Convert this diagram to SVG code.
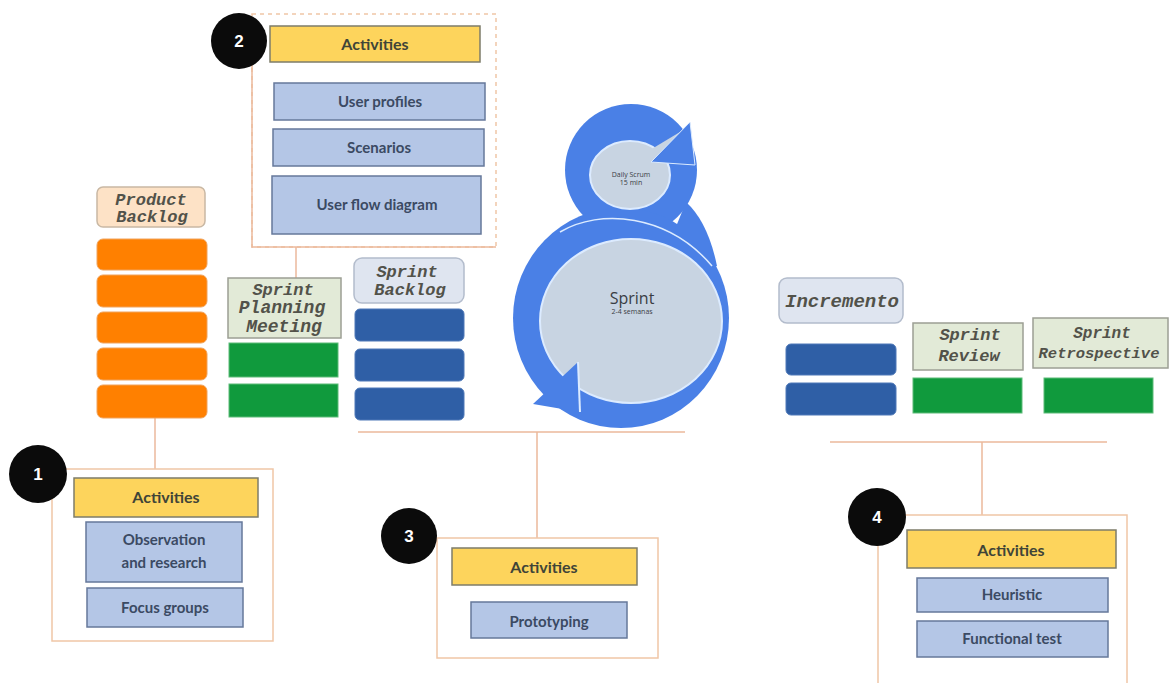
<svg xmlns="http://www.w3.org/2000/svg" width="1169" height="683" viewBox="0 0 1169 683">
  <style>
    .frame { fill: #ffffff; stroke: #f0c6a6; stroke-width: 1.5; }
    .dash { fill: none; stroke: #f0c6a6; stroke-width: 1.5; stroke-dasharray: 4 4; }
    .link { fill: none; stroke: #ebb99c; stroke-width: 1.5; }
    .act { fill: #fdd45c; stroke: #7d7c6a; stroke-width: 1.5; }
    .item { fill: #b4c6e6; stroke: #66789a; stroke-width: 1.5; }
    .badge { fill: #0b0b0b; }
    .num { font-family: "Liberation Sans", Arial, sans-serif; font-weight: bold; font-size: 17px; fill: #ffffff; text-anchor: middle; }
    .t-act { font-family: Lato, "Liberation Sans", sans-serif; font-weight: bold; font-size: 16px; fill: #3f4438; text-anchor: middle; }
    .t-item { font-family: Lato, "Liberation Sans", sans-serif; font-weight: bold; font-size: 15px; fill: #3b4a63; text-anchor: middle; }
    .lbl { font-family: "Liberation Mono", "Courier New", monospace; font-style: italic; font-weight: bold; font-size: 17px; fill: #52524a; text-anchor: middle; }
    .orange { fill: #ff8000; stroke: #f0a35c; stroke-width: 1; }
    .green { fill: #109a3d; stroke: #5dbb78; stroke-width: 1; }
    .blue { fill: #2f5fa6; stroke: #4f79b8; stroke-width: 1; }
    .lab-peach { fill: #fde2c6; stroke: #c9b8a4; stroke-width: 1.5; }
    .lab-green { fill: #e2ead7; stroke: #9c9f94; stroke-width: 1.5; }
    .lab-blue { fill: #dfe5f0; stroke: #b3bccc; stroke-width: 1.5; }
    .ring { fill: #4a80e6; }
    .core { fill: #c8d4e2; stroke: #dcebff; stroke-width: 2; }
    .t-sprint { font-family: "Open Sans", "Noto Sans", sans-serif; fill: #3a3d44; text-anchor: middle; }
  </style>

  <!-- connectors -->
  <g id="connectors">
    <path class="link" d="M155 418 V469"/>
    <path class="link" d="M296 247 V278"/>
    <path class="link" d="M358 432 H685 M537 432 V538"/>
    <path class="link" d="M830 442 H1107 M982 442 V515"/>
  </g>

  <!-- phase 2: activities -->
  <g id="phase2">
    <rect class="frame" x="252" y="14" width="244" height="233" style="stroke:none"/>
    <rect class="dash" x="252" y="14" width="244" height="233"/>
    <path class="link" d="M252 62 V247 H496"/>
    <rect class="act" x="270" y="26" width="210" height="36"/>
    <text class="t-act" x="375" y="50">Activities</text>
    <rect class="item" x="274" y="83" width="211" height="37"/>
    <text class="t-item" x="380" y="107">User profiles</text>
    <rect class="item" x="273" y="129" width="211" height="37"/>
    <text class="t-item" x="379" y="153">Scenarios</text>
    <rect class="item" x="272" y="176" width="209" height="58"/>
    <text class="t-item" x="377" y="210">User flow diagram</text>
    <circle class="badge" cx="239" cy="41" r="28"/>
    <text class="num" x="239" y="47">2</text>
  </g>

  <!-- product backlog -->
  <g id="product-backlog">
    <rect class="lab-peach" x="97" y="187" width="108" height="40" rx="6"/>
    <text class="lbl" x="151" y="205">Product</text>
    <text class="lbl" x="152" y="222">Backlog</text>
    <rect class="orange" x="97" y="239" width="110" height="31" rx="6"/>
    <rect class="orange" x="97" y="275" width="110" height="32" rx="6"/>
    <rect class="orange" x="97" y="312" width="110" height="31" rx="6"/>
    <rect class="orange" x="97" y="348" width="110" height="32" rx="6"/>
    <rect class="orange" x="97" y="385" width="110" height="33" rx="6"/>
  </g>

  <!-- sprint planning meeting -->
  <g id="sprint-planning">
    <rect class="lab-green" x="228" y="278" width="113" height="60"/>
    <text class="lbl" x="283" y="295">Sprint</text>
    <text class="lbl" x="282" y="313" style="font-size:18px">Planning</text>
    <text class="lbl" x="284" y="332" style="font-size:18px">Meeting</text>
    <rect class="green" x="229" y="343" width="109" height="34"/>
    <rect class="green" x="229" y="384" width="109" height="33"/>
  </g>

  <!-- sprint backlog -->
  <g id="sprint-backlog">
    <rect class="lab-blue" x="354" y="258" width="110" height="45" rx="8"/>
    <text class="lbl" x="407" y="277">Sprint</text>
    <text class="lbl" x="410" y="295">Backlog</text>
    <rect class="blue" x="355" y="309" width="109" height="32" rx="5"/>
    <rect class="blue" x="355" y="349" width="109" height="32" rx="5"/>
    <rect class="blue" x="355" y="388" width="109" height="32" rx="5"/>
  </g>

  <!-- sprint cycle: two looping arrows forming an 8 -->
  <g id="sprint-cycle">
    <circle class="ring" cx="631" cy="170" r="66"/>
    <ellipse class="ring" cx="621" cy="318" rx="108" ry="110"/>
    <path class="ring" d="M686 202 Q708 222 717 266 L660 266 Z"/>
    <path d="M560 232 C600 208 668 214 712 266" fill="none" stroke="#dcebff" stroke-width="1.5"/>
    <ellipse class="core" cx="630" cy="175" rx="40" ry="34"/>
    <ellipse class="core" cx="631" cy="321" rx="91" ry="82"/>
    <polygon points="650,150 690,126 664,161" fill="#c8d4e2"/>
    <polygon class="ring" points="690,122 695,165 651,162" stroke="#dcebff" stroke-width="1"/>
    <polygon class="ring" points="533,404 578,362 580,412"/>
    <path d="M578 362 L580 412" stroke="#dcebff" stroke-width="2"/>
    <text class="t-sprint" x="631" y="177" style="font-size:7px">Daily Scrum</text>
    <text class="t-sprint" x="631" y="185" style="font-size:7px">15 min</text>
    <text class="t-sprint" x="632" y="304" style="font-size:16px">Sprint</text>
    <text class="t-sprint" x="632" y="314" style="font-size:7px">2-4 semanas</text>
  </g>

  <!-- increment -->
  <g id="incremento">
    <rect class="lab-blue" x="779" y="278" width="124" height="45" rx="8"/>
    <text class="lbl" x="842" y="307" style="font-size:19px">Incremento</text>
    <rect class="blue" x="786" y="344" width="110" height="31" rx="5"/>
    <rect class="blue" x="786" y="383" width="110" height="32" rx="5"/>
  </g>

  <!-- sprint review -->
  <g id="sprint-review">
    <rect class="lab-green" x="913" y="323" width="110" height="47"/>
    <text class="lbl" x="970" y="340">Sprint</text>
    <text class="lbl" x="969" y="361">Review</text>
    <rect class="green" x="913" y="378" width="109" height="35"/>
  </g>

  <!-- sprint retrospective -->
  <g id="sprint-retrospective">
    <rect class="lab-green" x="1033" y="318" width="135" height="50"/>
    <text class="lbl" x="1102" y="338" style="font-size:16px">Sprint</text>
    <text class="lbl" x="1099" y="358" style="font-size:15.5px">Retrospective</text>
    <rect class="green" x="1044" y="378" width="109" height="35"/>
  </g>

  <!-- phase 1: activities -->
  <g id="phase1">
    <rect class="frame" x="52" y="469" width="221" height="172"/>
    <rect class="act" x="74" y="478" width="184" height="39"/>
    <text class="t-act" x="166" y="503">Activities</text>
    <rect class="item" x="86" y="522" width="156" height="60"/>
    <text class="t-item" x="164" y="545">Observation</text>
    <text class="t-item" x="164" y="568">and research</text>
    <rect class="item" x="87" y="588" width="156" height="39"/>
    <text class="t-item" x="165" y="613">Focus groups</text>
    <circle class="badge" cx="38" cy="474" r="29"/>
    <text class="num" x="38" y="480">1</text>
  </g>

  <!-- phase 3: activities -->
  <g id="phase3">
    <rect class="frame" x="437" y="538" width="221" height="120"/>
    <rect class="act" x="452" y="548" width="185" height="37"/>
    <text class="t-act" x="544" y="573">Activities</text>
    <rect class="item" x="471" y="602" width="156" height="36"/>
    <text class="t-item" x="549" y="627">Prototyping</text>
    <circle class="badge" cx="409" cy="536" r="28"/>
    <text class="num" x="409" y="542">3</text>
  </g>

  <!-- phase 4: activities -->
  <g id="phase4">
    <rect class="frame" x="878" y="515" width="249" height="180"/>
    <rect class="act" x="907" y="530" width="209" height="38"/>
    <text class="t-act" x="1011" y="556">Activities</text>
    <rect class="item" x="917" y="578" width="191" height="34"/>
    <text class="t-item" x="1012" y="600">Heuristic</text>
    <rect class="item" x="917" y="621" width="191" height="36"/>
    <text class="t-item" x="1012" y="644">Functional test</text>
    <circle class="badge" cx="877" cy="517" r="29"/>
    <text class="num" x="877" y="523">4</text>
  </g>
</svg>
